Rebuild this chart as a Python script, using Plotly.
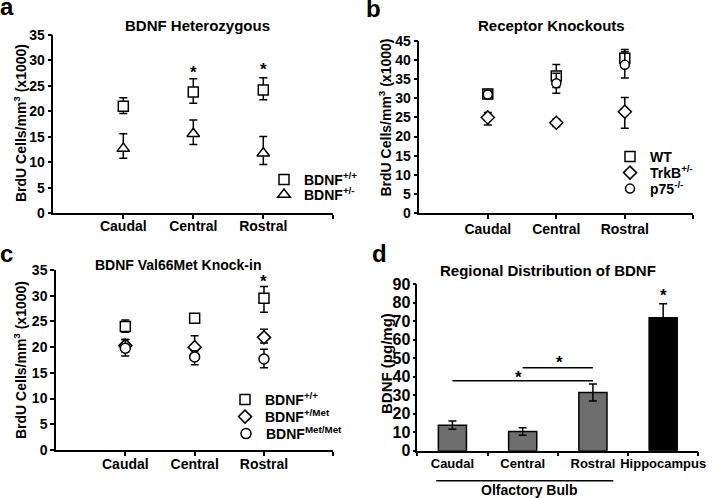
import plotly.graph_objects as go

FONT = "Liberation Sans, Arial, sans-serif"

# ---------------- data ----------------
regions = ["Caudal", "Central", "Rostral"]
region_pos = [1, 2, 3]

# panel a : BDNF heterozygous
a_wt = [21.0, 23.8, 24.2]
a_wt_plus = [1.7, 2.6, 2.4]
a_wt_minus = [1.4, 2.2, 1.9]
a_het = [12.7, 15.6, 11.8]
a_het_plus = [2.9, 2.7, 3.3]
a_het_minus = [1.9, 2.1, 2.2]
a_star_x = [2, 3]
a_star_y = [28.0, 28.7]

# panel b : receptor knockouts
b_wt = [31.1, 35.8, 40.4]
b_wt_err = [1.2, 3.0, 2.3]
b_trkb = [25.0, 23.6, 26.5]
b_trkb_plus = [1.3, 0.9, 3.7]
b_trkb_minus = [2.0, 1.0, 4.3]
b_p75 = [31.0, 33.9, 38.7]
b_p75_err = [1.0, 2.6, 3.4]
b_star_x = [3]
b_star_y = [45.8]

# panel c : Val66Met knock-in
c_wt = [24.0, 25.6, 29.5]
c_wt_plus = [1.3, 0.7, 2.3]
c_wt_minus = [1.1, 0.6, 2.7]
c_het = [20.3, 20.0, 21.9]
c_het_plus = [1.2, 2.2, 1.6]
c_het_minus = [1.2, 2.2, 1.1]
c_hom = [19.8, 18.1, 17.7]
c_hom_plus = [1.7, 1.2, 1.9]
c_hom_minus = [1.5, 1.5, 1.7]
c_star_x = [3]
c_star_y = [33.2]

# panel d : regional distribution of BDNF
d_cats = ["Caudal", "Central", "Rostral", "Hippocampus"]
d_pos = [0, 1, 2, 3]
d_vals = [13.8, 10.4, 31.4, 71.8]
d_err = [2.2, 2.0, 4.6, 7.6]
d_colors = ["#6e6e6e", "#6e6e6e", "#6e6e6e", "#000000"]
d_sig = [(0, 2, 37.8), (1, 2, 44.9)]       # (from, to, height)
d_star_x = [0.94, 1.52, 3]
d_star_y = [40.9, 48.6, 85.1]

# ---------------- figure ----------------
fig = go.Figure()

def err(plus, minus=None):
    d = dict(type="data", array=plus, color="black", thickness=1.5, width=4)
    if minus is not None:
        d["symmetric"] = False
        d["arrayminus"] = minus
    return d

def mk(symbol, size):
    return dict(symbol=symbol, size=size, color="white",
                line=dict(color="black", width=1.5))

# panel a
fig.add_trace(go.Scatter(x=region_pos, y=a_wt, mode="markers", name="BDNF<sup>+/+</sup>",
                         marker=mk("square", 10), error_y=err(a_wt_plus, a_wt_minus),
                         xaxis="x", yaxis="y", legend="legend"))
fig.add_trace(go.Scatter(x=region_pos, y=a_het, mode="markers", name="BDNF<sup>+/-</sup>",
                         marker=mk("triangle-up", 11), error_y=err(a_het_plus, a_het_minus),
                         xaxis="x", yaxis="y", legend="legend2"))
# panel b
fig.add_trace(go.Scatter(x=region_pos, y=b_wt, mode="markers", name="WT",
                         marker=mk("square", 10), error_y=err(b_wt_err),
                         xaxis="x2", yaxis="y2", legend="legend3"))
fig.add_trace(go.Scatter(x=region_pos, y=b_trkb, mode="markers", name="TrkB<sup>+/-</sup>",
                         marker=mk("diamond", 10), error_y=err(b_trkb_plus, b_trkb_minus),
                         xaxis="x2", yaxis="y2", legend="legend4"))
fig.add_trace(go.Scatter(x=region_pos, y=b_p75, mode="markers", name="p75<sup>-/-</sup>",
                         marker=mk("circle", 9), error_y=err(b_p75_err),
                         xaxis="x2", yaxis="y2", legend="legend5"))
# panel c
fig.add_trace(go.Scatter(x=region_pos, y=c_wt, mode="markers", name="BDNF<sup>+/+</sup>",
                         marker=mk("square", 10), error_y=err(c_wt_plus, c_wt_minus),
                         xaxis="x3", yaxis="y3", legend="legend6"))
fig.add_trace(go.Scatter(x=region_pos, y=c_het, mode="markers", name="BDNF<sup>+/Met</sup>",
                         marker=mk("diamond", 10), error_y=err(c_het_plus, c_het_minus),
                         xaxis="x3", yaxis="y3", legend="legend7"))
fig.add_trace(go.Scatter(x=region_pos, y=c_hom, mode="markers", name="BDNF<sup>Met/Met</sup>",
                         marker=mk("circle", 10), error_y=err(c_hom_plus, c_hom_minus),
                         xaxis="x3", yaxis="y3", legend="legend8"))
# panel d
fig.add_trace(go.Bar(x=d_pos, y=d_vals, marker=dict(color=d_colors, line=dict(color="black", width=1.5)),
                     error_y=dict(type="data", array=d_err, color="black", thickness=1.5, width=4),
                     width=0.4, showlegend=False, xaxis="x4", yaxis="y4"))

# ---------------- axes ----------------
tickf = dict(family=FONT, size=14, color="black", weight="bold")
base_x = dict(range=[0, 4], tickvals=[1, 2, 3, 4], ticktext=regions + [""], showline=True,
              linecolor="black", linewidth=1.5, ticks="outside", ticklen=4, tickwidth=1.5,
              tickcolor="black", showgrid=False, zeroline=False, tickfont=tickf,
              fixedrange=True, automargin=False)
base_y = dict(showline=True, linecolor="black", linewidth=1.5, ticks="outside", ticklen=4,
              tickwidth=1.5, tickcolor="black", showgrid=False, zeroline=False,
              tickfont=tickf, fixedrange=True, automargin=False)

fig.update_layout(
    xaxis=dict(base_x, domain=[53.3/720, 333.3/720], anchor="y", ticklabelstandoff=-5),
    yaxis=dict(base_y, domain=[1-213.3/498, 1-35/498], range=[0, 35], dtick=5, anchor="x"),
    xaxis2=dict(base_x, domain=[419.3/720, 693.3/720], anchor="y2", ticklabelstandoff=-2),
    yaxis2=dict(base_y, domain=[1-213.3/498, 1-40.7/498], range=[0, 45], dtick=5, anchor="x2"),
    xaxis3=dict(base_x, domain=[56/720, 333.3/720], anchor="y3", ticklabelstandoff=-4),
    yaxis3=dict(base_y, domain=[1-450/498, 1-270/498], range=[0, 35], dtick=5, anchor="x3"),
    xaxis4=dict(range=[-0.5, 3.5], tickvals=d_pos, ticktext=d_cats, ticks="", showline=True,
                linecolor="black", linewidth=1.5, showgrid=False, zeroline=False,
                tickfont=dict(family=FONT, size=13, color="black", weight="bold"),
                minor=dict(tickmode="array", tickvals=[-0.5, 0.5, 1.5, 2.5, 3.5], ticks="outside",
                           ticklen=4, tickwidth=1.5, tickcolor="black", showgrid=False),
                domain=[417.3/720, 698.3/720], anchor="y4", fixedrange=True, automargin=False),
    yaxis4=dict(base_y, domain=[1-450.7/498, 1-284.2/498], range=[0, 90], dtick=10, anchor="x4",
                ticklen=3, ticklabelstandoff=-1,
                tickfont=dict(family=FONT, size=16, color="black", weight="bold")),
)

# one legend per row so each entry sits where the reference puts it
legf = dict(family=FONT, size=14, color="black", weight="bold")
legend_rows = [(287, 180), (287, 195), (633, 157), (633, 173), (633, 189),
               (248, 400), (248, 417), (249, 434)]
for i, (sx, sy) in enumerate(legend_rows):
    key = "legend" if i == 0 else "legend%d" % (i + 1)
    fig.update_layout({key: dict(x=(sx - 23) / 720, y=1 - (sy - 16) / 498, xanchor="left",
                                 yanchor="top", font=legf, bgcolor="rgba(0,0,0,0)",
                                 itemclick=False, itemdoubleclick=False)})

# ---------------- annotations ----------------
ann = []
def ptext(txt, x, y, size, angle=0):
    ann.append(dict(text="<b>%s</b>" % txt, x=x/720, y=1-y/498, xref="paper", yref="paper",
                    showarrow=False, xanchor="center", yanchor="middle", textangle=angle,
                    font=dict(family=FONT, size=size, color="black")))

ptext("a", 7, 7, 24)
ptext("b", 373.5, 8.5, 24)
ptext("c", 6.5, 253.6, 24)
ptext("d", 379, 253.6, 24)
ptext("BDNF Heterozygous", 197, 26, 15)
ptext("Receptor Knockouts", 551, 25.5, 15)
ptext("BDNF Val66Met Knock-in", 178, 265, 14)
ptext("Regional Distribution of BDNF", 548, 270, 15)
ytitle = "BrdU Cells/mm<sup>3</sup> (x1000)"
ptext(ytitle, 20, 123, 14, -90)
ptext(ytitle, 385.5, 118, 14, -90)
ptext(ytitle, 20, 360, 14, -90)
ptext("BDNF (pg/mg)", 386, 364, 15, -90)
ptext("Olfactory Bulb", 529, 490, 14)

def stars(xs, ys, xr, yr):
    for x, y in zip(xs, ys):
        ann.append(dict(text="<b>*</b>", x=x, y=y, xref=xr, yref=yr, showarrow=False,
                        yshift=-2, font=dict(family=FONT, size=17, color="black")))

stars(a_star_x, a_star_y, "x", "y")
stars(b_star_x, b_star_y, "x2", "y2")
stars(c_star_x, c_star_y, "x3", "y3")
stars(d_star_x, d_star_y, "x4", "y4")
fig.update_layout(annotations=ann)

shapes = []
for x0, x1, h in d_sig:
    shapes.append(dict(type="line", x0=x0, x1=x1, y0=h, y1=h, xref="x4", yref="y4",
                       line=dict(color="black", width=1.5)))
shapes.append(dict(type="line", x0=-0.23, x1=2.29, y0=1-480.7/498, y1=1-480.7/498,
                   xref="x4", yref="paper", line=dict(color="black", width=1.5)))
fig.update_layout(shapes=shapes)

fig.update_layout(width=720, height=498, margin=dict(l=0, r=0, t=0, b=0, autoexpand=False),
                  paper_bgcolor="white", plot_bgcolor="white", bargap=0.6)

fig.write_html("out.html", config={"displayModeBar": False, "staticPlot": False},
               post_script="document.body.style.margin='0px';document.body.style.overflow='hidden';")
